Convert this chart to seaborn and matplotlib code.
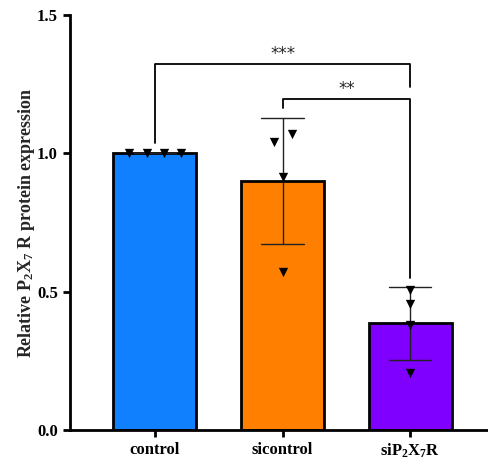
import numpy as np
import pandas as pd
import matplotlib
matplotlib.use('Agg')
import matplotlib.pyplot as plt
import seaborn as sns

# data
groups = ['control', 'sicontrol', 'siP$_2$X$_7$R']
control_vals = [1.0, 1.0, 1.0, 1.0]
sicontrol_vals = [1.07, 1.04, 0.915, 0.572]
sip2x7r_vals = [0.505, 0.455, 0.38, 0.205]
colors = ['#1080ff', '#ff8000', '#8000ff']
# horizontal scatter of the points inside each bar
spread = [[-0.204, -0.063, 0.07, 0.204],
          [0.076, -0.063, 0.0, 0.0],
          [0.0, 0.0, 0.0, 0.0]]

df = pd.DataFrame({
    'group': [groups[0]] * 4 + [groups[1]] * 4 + [groups[2]] * 4,
    'value': control_vals + sicontrol_vals + sip2x7r_vals,
})

sns.set_style('ticks')
plt.rcParams['font.family'] = ['Liberation Serif', 'DejaVu Serif']
plt.rcParams['font.weight'] = 'bold'
plt.rcParams['mathtext.fontset'] = 'custom'
plt.rcParams['mathtext.rm'] = 'Liberation Serif:bold'
plt.rcParams['mathtext.it'] = 'Liberation Serif:bold'
plt.rcParams['mathtext.default'] = 'rm'

fig = plt.figure(figsize=(4.88, 4.65), dpi=100)
ax = fig.add_axes([0.143, 0.075, 0.857, 0.893])

sns.barplot(data=df, x='group', y='value', hue='group', palette=colors,
            errorbar='sd', capsize=0.33, width=0.65, saturation=1,
            edgecolor='black', linewidth=2,
            err_kws={'color': '#222222', 'linewidth': 1.0}, legend=False, ax=ax)

# individual points
for i, vals in enumerate([control_vals, sicontrol_vals, sip2x7r_vals]):
    xs = np.full(len(vals), i, dtype=float) + np.array(spread[i])
    ax.scatter(xs, vals, marker='v', s=45, color='black', zorder=5,
               linewidths=0)

# significance brackets
def bracket(x1, x2, y, yl, yr, label):
    ax.plot([x1, x1, x2, x2], [yl, y, y, yr], color='black', lw=1.3,
            clip_on=False)
    ax.text((x1 + x2) / 2, y + 0.002, label, ha='center', va='bottom',
            fontsize=12, fontweight='normal', family='DejaVu Sans')

bracket(0, 2, 1.323, 1.037, 1.24, '***')
bracket(1, 2, 1.196, 1.164, 0.55, '**')

ax.set_xlim(-0.667, 2.61)
ax.set_ylim(0, 1.5)
ax.set_yticks([0, 0.5, 1.0, 1.5])
ax.set_yticklabels(['0.0', '0.5', '1.0', '1.5'])
ax.set_xlabel('')
ax.set_ylabel('Relative P$_2$X$_7$ R protein expression', fontsize=13,
              fontweight='bold', labelpad=0)
ax.tick_params(axis='both', width=2, length=5, labelsize=12, color='black',
               labelcolor='black')
for s in ['left', 'bottom']:
    ax.spines[s].set_linewidth(2)
    ax.spines[s].set_color('black')
sns.despine(ax=ax)

fig.savefig('out.png', dpi=100)
